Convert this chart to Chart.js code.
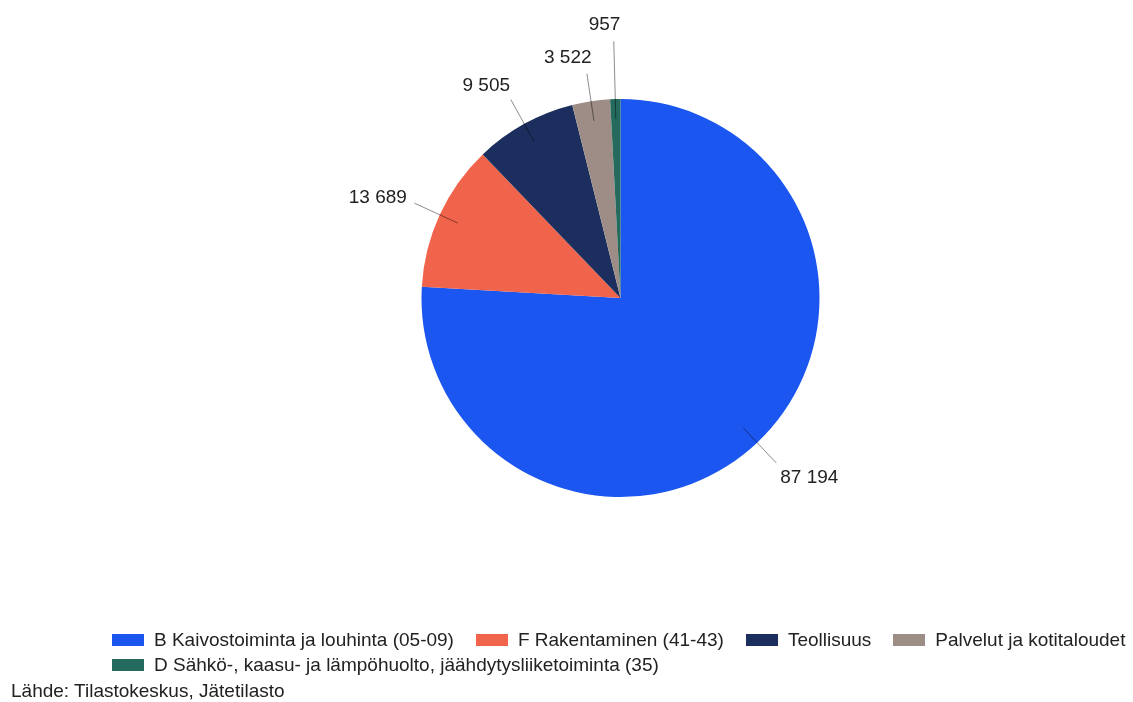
<!DOCTYPE html>
<html lang="fi">
<head>
<meta charset="utf-8">
<title>Jätteet toimialoittain</title>
<script src="https://cdn.jsdelivr.net/npm/chart.js@4.4.1/dist/chart.umd.min.js"></script>
<style>
  html, body { margin: 0; padding: 0; background: #fff; overflow: hidden; }
  body { width: 1133px; height: 702px; position: relative; font-family: "Liberation Sans", Arial, sans-serif; color: #222; }
  #pie { position: absolute; left: 0; top: 0; }
  #legend { position: absolute; left: 112px; top: 627px; width: 1030px; display: flex; flex-wrap: wrap; column-gap: 22px; font-size: 19px; }
  #legend .item { display: flex; align-items: center; height: 25px; white-space: nowrap; }
  #legend .box { width: 32px; height: 12px; margin-right: 10px; flex: none; }
  #source { position: absolute; left: 11px; top: 680px; font-size: 19px; line-height: 22px; }
</style>
</head>
<body>
<canvas id="pie" width="1133" height="702"></canvas>
<div id="legend"></div>
<div id="source">Lähde: Tilastokeskus, Jätetilasto</div>
<script>
// Jätteet toimialoittain, 1 000 tonnia
var categories = [
    "B Kaivostoiminta ja louhinta (05-09)",
    "F Rakentaminen (41-43)",
    "Teollisuus",
    "Palvelut ja kotitaloudet",
    "D Sähkö-, kaasu- ja lämpöhuolto, jäähdytysliiketoiminta (35)"
];
var values = [87194, 13689, 9505, 3522, 957];
var colors = ["#1a56ef", "#f1644c", "#1c2e5d", "#9d8d86", "#246a5d"];

var labelFont = '19px "Liberation Sans", Arial, sans-serif';

// 87194 -> "87 194"
function formatValue(v) {
    return String(v).replace(/\B(?=(\d{3})+(?!\d))/g, " ");
}

// text box for a slice label, leader line ends at radius rad
function labelBox(cx, cy, dx, dy, rad, w) {
    var ex = cx + dx * rad, ey = cy + dy * rad;
    var ax = ex + dx * 16, ay = ey + dy * 18;
    var left = dx < 0 ? ax + 7 - w : ax - 7;
    return { ex: ex, ey: ey, left: left, right: left + w, cy: ay, top: ay - 11, bottom: ay + 11 };
}

function overlaps(a, b, pad) {
    return a.left - pad < b.right + pad && b.left - pad < a.right + pad &&
           a.top - pad < b.bottom + pad && b.top - pad < a.bottom + pad;
}

// value labels outside the pie with leader lines
var pieLabels = {
    id: "pieLabels",
    afterDatasetsDraw: function(chart) {
        var ctx = chart.ctx;
        var arcs = chart.getDatasetMeta(0).data;
        var placed = [];
        ctx.save();
        ctx.font = labelFont;
        arcs.forEach(function(arc, i) {
            var mid = (arc.startAngle + arc.endAngle) / 2;
            var dx = Math.cos(mid), dy = Math.sin(mid);
            var r = arc.outerRadius;
            var text = formatValue(chart.data.datasets[0].data[i]);
            var w = ctx.measureText(text).width;
            var rad = r * 1.14;
            var box = labelBox(arc.x, arc.y, dx, dy, rad, w);
            while (placed.some(function(p) { return overlaps(p, box, 5); }) && rad < r * 2) {
                rad += 1;
                box = labelBox(arc.x, arc.y, dx, dy, rad, w);
            }
            placed.push(box);

            ctx.strokeStyle = "rgba(0,0,0,0.45)";
            ctx.lineWidth = 1;
            ctx.beginPath();
            ctx.moveTo(arc.x + dx * r * 0.9, arc.y + dy * r * 0.9);
            ctx.lineTo(box.ex, box.ey);
            ctx.stroke();

            ctx.fillStyle = "#222";
            ctx.textAlign = "left";
            ctx.textBaseline = "alphabetic";
            ctx.fillText(text, box.left, box.cy + 7);
        });
        ctx.restore();
    }
};

// legend as html, two rows aligned left
var htmlLegend = {
    id: "htmlLegend",
    afterUpdate: function(chart) {
        var el = document.getElementById("legend");
        el.innerHTML = "";
        var items = chart.options.plugins.legend.labels.generateLabels(chart);
        items.forEach(function(item) {
            var row = document.createElement("div");
            row.className = "item";
            var box = document.createElement("span");
            box.className = "box";
            box.style.background = item.fillStyle;
            var txt = document.createElement("span");
            txt.textContent = item.text;
            row.appendChild(box);
            row.appendChild(txt);
            el.appendChild(row);
        });
    }
};

new Chart(document.getElementById("pie"), {
    type: "pie",
    data: {
        labels: categories,
        datasets: [{
            data: values,
            backgroundColor: colors,
            borderWidth: 0,
            hoverOffset: 0
        }]
    },
    options: {
        responsive: false,
        animation: false,
        devicePixelRatio: 1,
        layout: { padding: { left: 108, right: 0, top: 99, bottom: 205 } },
        plugins: {
            legend: { display: false },
            tooltip: { enabled: false }
        }
    },
    plugins: [pieLabels, htmlLegend]
});
</script>
</body>
</html>
